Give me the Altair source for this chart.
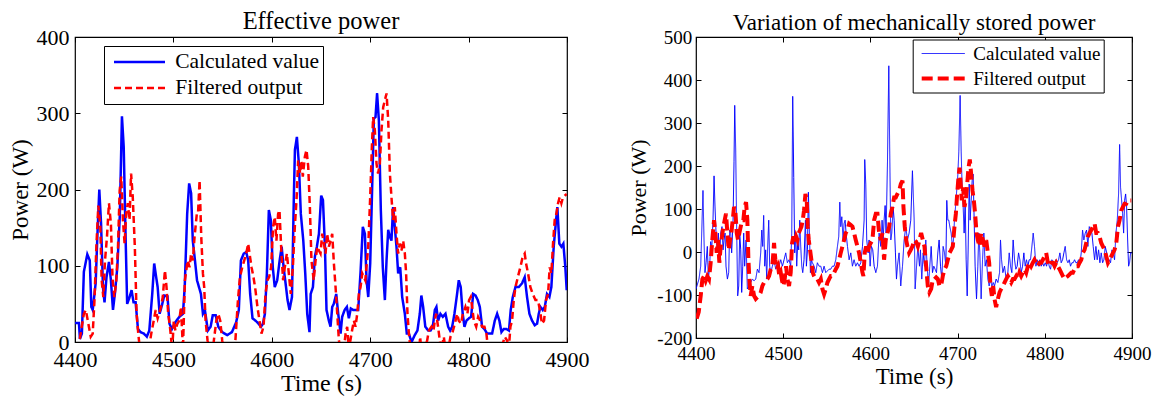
import altair as alt
import pandas as pd

FONT = "Liberation Serif"
SERIES = ["Calculated value", "Filtered output"]
X_TICKS = [4400, 4500, 4600, 4700, 4800, 4900]
Y_TICKS_LEFT = [0, 100, 200, 300, 400]
Y_TICKS_RIGHT = [-200, -100, 0, 100, 200, 300, 400, 500]

# [time (s), power (W)] pairs
# ---------------- Effective power: calculated value ----------------
ep_calc = [
    [4400, 25], [4404, 25], [4405, 4], [4407, 11], [4409, 92], [4412.5, 115], [4415, 107], [4416.6, 46],
    [4418, 42], [4421, 77], [4422.7, 138], [4424.7, 200], [4426.5, 155], [4428.4, 72], [4430, 52],
    [4432, 85], [4434.5, 105], [4436.5, 81], [4438.6, 42], [4440.5, 63], [4443, 98], [4445.5, 164],
    [4447.7, 296], [4449.5, 256], [4451.5, 133], [4453, 50], [4455, 57], [4457.5, 68], [4459.5, 52],
    [4461.6, 52], [4464, 17], [4466.5, 13], [4470, 11], [4473, 7], [4475.5, 15], [4478.5, 63],
    [4480.5, 103], [4482.5, 85], [4484, 72], [4486, 37], [4488.5, 49], [4490.7, 61], [4494, 60],
    [4496, 24], [4498.5, 17], [4502, 26], [4506, 33], [4509.7, 37], [4511.5, 72], [4514, 168],
    [4516, 208], [4518, 195], [4519.7, 133], [4521.9, 107], [4524, 81], [4526, 72], [4528, 63],
    [4530, 37], [4532, 42], [4535, 15], [4537.8, 20], [4540, 35], [4543, 35], [4545.6, 20],
    [4549.6, 13], [4554.7, 9], [4559.5, 13], [4563.8, 26], [4566.5, 42], [4568.6, 107], [4571.5, 116],
    [4574, 118], [4576, 107], [4578, 63], [4580.4, 31], [4583.5, 28], [4586.5, 24], [4589, 20],
    [4591, 24], [4593, 37], [4595, 90], [4597, 173], [4599, 160], [4601, 98], [4603, 72], [4605.5, 81],
    [4608, 107], [4610, 125], [4612, 98], [4614, 77], [4616, 55], [4618, 42], [4620.5, 59],
    [4622.4, 190], [4623.5, 252], [4625.5, 269], [4627.5, 234], [4629.5, 168], [4632, 133], [4634, 90],
    [4636, 37], [4638.3, 13], [4639.5, 63], [4641.8, 72], [4643.8, 112], [4645.8, 125], [4647.9, 142],
    [4650.2, 192], [4652, 186], [4654, 125], [4655.6, 42], [4658, 28], [4659.7, 20], [4661.4, 46],
    [4663, 50], [4665.5, 63], [4667.5, 37], [4669.9, 11], [4671.5, 33], [4674, 42], [4676.3, 46],
    [4678.3, 31], [4680.3, 44], [4682.7, 42], [4685, 42], [4687.8, 42], [4690.2, 92], [4692.5, 151],
    [4694.6, 142], [4696.3, 81], [4698, 59], [4700, 103], [4702, 203], [4703.7, 293], [4705.4, 295],
    [4707, 326], [4708.8, 291], [4710.8, 173], [4712.8, 98], [4714.9, 55], [4716.6, 107], [4718.3, 147],
    [4720, 138], [4721.6, 133], [4723.3, 177], [4725, 151], [4726.7, 125], [4728.4, 90], [4730.5, 98],
    [4732.5, 59], [4735.2, 37], [4737.2, 11], [4739.3, 11], [4742, 0], [4745.3, 9], [4748, 15],
    [4750.4, 37], [4752, 61], [4753.8, 46], [4756, 20], [4759, 15], [4761.3, 15], [4763.6, 20],
    [4765.7, 42], [4767.3, 46], [4769, 28], [4771.4, 37], [4773.8, 33], [4776.5, 37], [4779.2, 20],
    [4781.2, 15], [4783.3, 20], [4785.6, 37], [4788.3, 63], [4790, 81], [4792, 72], [4794, 37],
    [4795.8, 20], [4797.8, 28], [4800.2, 31], [4802.6, 33], [4804.6, 63], [4807, 61], [4809.3, 55],
    [4811.4, 46], [4813.7, 20], [4816.1, 17], [4818.8, 11], [4821.5, 11], [4823.9, 11], [4826.6, 28],
    [4829, 37], [4831.3, 28], [4833.4, 13], [4835.7, 17], [4838.4, 17], [4841, 15], [4842.8, 42],
    [4844.9, 59], [4847.6, 72], [4851, 72], [4854.3, 77], [4857, 85], [4859.4, 59], [4861.8, 37],
    [4864.5, 28], [4867.2, 22], [4869.6, 24], [4871.3, 37], [4873, 46], [4875.3, 42], [4877.4, 46],
    [4879.7, 63], [4882.1, 59], [4884.1, 72], [4886.5, 125], [4888.9, 160], [4890.2, 177],
    [4892.2, 129], [4894.3, 125], [4896.3, 129], [4898.3, 98], [4899.7, 68],
]

# ---------------- Effective power: filtered output ----------------
ep_filt = [
    [4402, -10], [4405, 5], [4409, 37], [4411, 42], [4413, 28], [4416, 7], [4418, 11], [4419.8, 55],
    [4421.7, 125], [4423.7, 179], [4425.7, 151], [4427.1, 81], [4428.8, 59], [4430.5, 107],
    [4432.5, 138], [4434.5, 182], [4436.5, 155], [4438.2, 81], [4440, 59], [4442, 81], [4443.7, 125],
    [4445.4, 199], [4447, 217], [4448.7, 160], [4450.4, 129], [4452, 168], [4453.7, 182], [4455.4, 160],
    [4457, 221], [4458.7, 190], [4460.8, 125], [4462.6, 37], [4464.3, 11], [4466, -10], [4475, -10],
    [4477.5, 11], [4480, 28], [4482, 42], [4484, 31], [4487, 44], [4489.2, 59], [4491.4, 94],
    [4493, 72], [4494.7, 37], [4496.5, 20], [4498.8, -10], [4500.4, 28], [4502, 15], [4504, 24],
    [4506, 28], [4507.7, 46], [4509.7, -10], [4511.7, 81], [4514.5, 107], [4516.4, 98], [4518, 116],
    [4519.8, 107], [4521.5, 138], [4523.8, 168], [4525, 168], [4526.6, 212], [4528.3, 138], [4530, 90],
    [4531.3, 72], [4532.7, 28], [4534.7, 2], [4537, -10], [4540, -10], [4541.6, 7], [4543.6, 28],
    [4545.6, 37], [4547.6, 28], [4549.6, 2], [4551, -10], [4562, -10], [4563, 2], [4565.6, 55],
    [4567.6, 85], [4570, 98], [4572, 107], [4574, 116], [4576, 129], [4577.4, 116], [4579.4, 98],
    [4581.4, 85], [4583.4, 68], [4585.4, 46], [4587.5, 28], [4589.5, 11], [4591.6, 20], [4593.6, 63],
    [4595.6, 81], [4597.3, 85], [4599.3, 98], [4601.3, 151], [4603, 164], [4604.7, 133], [4606.4, 168],
    [4607.8, 173], [4609.8, 116], [4611.5, 81], [4613.2, 98], [4615.3, 116], [4617.3, 90], [4619.3, 63],
    [4621.4, 98], [4623.4, 151], [4625.1, 186], [4626.8, 238], [4628.8, 221], [4630.1, 238],
    [4631.5, 217], [4633.6, 243], [4635.3, 252], [4637, 230], [4638.7, 177], [4640.3, 107],
    [4642.6, 81], [4644.5, 107], [4646.2, 125], [4647.9, 120], [4649.5, 116], [4651.2, 142],
    [4653, 129], [4654.6, 116], [4656.3, 142], [4658, 125], [4659.7, 133], [4661.4, 142], [4663.1, 103],
    [4664.8, 72], [4666.5, 37], [4668.2, 2], [4670, -10], [4673.2, -10], [4675, 11], [4676.6, 20],
    [4678.3, -10], [4681, 11], [4683.4, 28], [4685.1, 20], [4686.8, 37], [4688.5, 63], [4690.2, 72],
    [4691.9, 90], [4695, 81], [4698, 125], [4700, 190], [4701.7, 256], [4703, 295], [4704.7, 278],
    [4706.4, 234], [4708, 221], [4709.8, 234], [4711.5, 278], [4713.2, 308], [4714.9, 317],
    [4716.6, 326], [4718.3, 291], [4720, 221], [4721.6, 190], [4723.3, 160], [4725, 177], [4726.7, 142],
    [4728.4, 116], [4730, 129], [4731.8, 120], [4733.5, 133], [4735.2, 116], [4736.5, 90], [4737.9, 37],
    [4739.3, 11], [4741, -10], [4750, -10], [4750.7, 7], [4752, -10], [4755, -10], [4757.9, 2],
    [4759.6, 15], [4762.3, 20], [4764.3, 15], [4765.7, 28], [4767, 37], [4769, 20], [4770.7, 2],
    [4772.4, -10], [4774.8, 7], [4776.5, -10], [4779.2, -10], [4781.6, 7], [4783.3, 11], [4786, 24],
    [4788.3, 37], [4790, 28], [4792.4, 24], [4794.1, 37], [4795.8, 42], [4796.8, 46], [4798.8, 37],
    [4800.5, 55], [4802.2, 59], [4803.6, 46], [4805.3, 28], [4807.7, 20], [4809.7, 33], [4811.7, 28],
    [4813.7, 20], [4816.1, 20], [4818.1, 11], [4819.8, -10], [4833, -10], [4836.7, 7], [4839.1, 2],
    [4840.8, -10], [4842.5, 20], [4844.2, 28], [4845.9, 55], [4847.6, 72], [4849.3, 81], [4851, 90],
    [4852.6, 98], [4855, 112], [4857, 116], [4858.4, 103], [4860.4, 90], [4862.8, 72], [4865.2, 63],
    [4867.9, 55], [4870.6, 55], [4873, 37], [4874.6, 24], [4876.7, 28], [4878.7, 55], [4880.8, 63],
    [4882.4, 98], [4884.1, 90], [4885.8, 129], [4887.5, 160], [4889.2, 168], [4890.9, 182],
    [4892.6, 190], [4894.3, 182], [4896, 190], [4897.7, 192], [4899.7, 194],
]

# ---------------- Mechanically stored power: calculated value ----------------
ms_calc = [
    [4400, -86], [4403.4, -63], [4405.4, -33], [4408, 143], [4409.2, 28], [4410.3, -48], [4411.5, -25],
    [4413, 13], [4414.2, -63], [4415.7, -33], [4416.8, 24], [4418, 5], [4419.5, 74], [4420.7, 177],
    [4421.8, 105], [4423, 44], [4424.5, -2], [4425.6, 44], [4427.2, -18], [4428.3, 44], [4429.8, 59],
    [4431, 5], [4432.1, 28], [4433.3, 44], [4434.4, -33], [4436, -63], [4437.5, -48], [4438.6, 51],
    [4439.8, 44], [4440.9, -2], [4442.5, 74], [4443.6, 211], [4444.4, 341], [4445.5, 242], [4446.7, 44],
    [4447.8, -102], [4449, -79], [4450.1, 44], [4451.3, 5], [4452.4, -94], [4453.6, -33], [4454.7, 44],
    [4455.8, -33], [4457.4, 28], [4458.9, -86], [4460.8, -79], [4462.7, -71], [4464.6, -63],
    [4466.6, -67], [4468.5, -63], [4470.4, -40], [4472.3, -48], [4474.2, -2], [4475.4, 51],
    [4476.5, 13], [4477.6, 85], [4478.8, -33], [4479.9, 5], [4481.1, -63], [4482.2, 13], [4483.4, 74],
    [4484.5, -33], [4485.7, -48], [4487.6, -33], [4489.5, -18], [4491.4, -40], [4493.3, -25],
    [4495.2, -33], [4497.2, -18], [4499.1, -33], [4501, -18], [4502.9, -2], [4504.8, -25], [4506.7, -18],
    [4508.6, -33], [4509.8, 44], [4510.9, 362], [4512.1, 173], [4513.2, -2], [4514.4, 44], [4515.5, -33],
    [4516.7, 28], [4517.8, 5], [4519, 74], [4520.1, 13], [4521.3, -33], [4522.4, -48], [4523.9, -18],
    [4525.5, 74], [4526.6, -33], [4527.8, 5], [4528.9, 139], [4530.1, 44], [4531.2, -48], [4532.3, -18],
    [4533.5, -25], [4535.4, -33], [4537.3, -48], [4539.2, -25], [4541.1, -33], [4543.1, -33],
    [4545, -48], [4546.9, -33], [4548.8, -48], [4550.7, -44], [4552.6, -40], [4554.5, -40],
    [4556.4, -33], [4558.4, -33], [4560.3, -18], [4562.2, 13], [4563.7, 36], [4564.9, 116], [4566, 59],
    [4567.2, 82], [4568.7, 28], [4569.8, 66], [4571, 74], [4572.1, 44], [4573.7, 13], [4575.6, -18],
    [4577.5, -2], [4579.4, -33], [4581.3, -18], [4583.2, -33], [4585.1, -25], [4587, -33], [4589, -25],
    [4590.9, 13], [4592.8, 74], [4593.5, 215], [4594.7, 158], [4595.8, 28], [4597.4, -2], [4598.5, 28],
    [4599.7, -33], [4601.2, 13], [4602.7, 5], [4604.3, -33], [4606.2, -48], [4608.1, -33], [4610, 44],
    [4611.9, 13], [4613.4, 74], [4614.6, 28], [4615.7, 74], [4616.9, 108], [4618, 44], [4619.6, 211],
    [4621.1, 433], [4622.2, 227], [4623.4, 28], [4624.5, 44], [4626.1, 105], [4627.2, 74], [4628.7, -2],
    [4629.9, -63], [4631, -33], [4632.9, -2], [4634.8, -79], [4636.8, -33], [4638.7, 28], [4640.6, 59],
    [4642.5, 28], [4644.4, 44], [4646.3, 74], [4648.2, 189], [4650.2, 74], [4651.3, -86], [4654.4, 13],
    [4656.3, -33], [4657.4, 5], [4658.9, -63], [4660.5, -2], [4662, -33], [4663.5, 28], [4665.1, -33],
    [4666.6, -79], [4668.1, -33], [4669.7, 13], [4671.2, -48], [4672.7, -33], [4674.2, -40],
    [4675.8, -48], [4677.3, -2], [4678.8, 28], [4680.4, -33], [4681.9, -63], [4683.4, 13], [4685, -2],
    [4686.5, -33], [4687.6, 120], [4688.8, 74], [4689.9, 74], [4691.1, 59], [4692.6, 44], [4694.1, 13],
    [4695.3, 28], [4696.4, 74], [4697.6, 105], [4698.7, 135], [4700.3, 181], [4701.4, 234],
    [4702.9, 364], [4704.1, 234], [4705.2, 150], [4706.4, 105], [4707.5, 44], [4708.7, 120],
    [4709.8, -18], [4711, -102], [4712.1, 5], [4713.3, 158], [4714.4, 74], [4715.6, 120], [4716.7, 166],
    [4717.8, 181], [4719, 74], [4720.1, -33], [4721.7, -109], [4723.2, -33], [4724.3, 44], [4725.5, -2],
    [4727, -109], [4728.6, -18], [4730.1, 44], [4731.6, -33], [4733.1, -18], [4734.7, -63],
    [4736.2, -79], [4737.7, -63], [4739.3, -79], [4740.8, -71], [4742.3, -79], [4744.2, -63],
    [4746.2, -71], [4748.1, -48], [4749.2, 28], [4750.4, -18], [4751.9, -48], [4753.8, -33],
    [4755.7, -63], [4757.6, -48], [4759.2, -2], [4760.7, -33], [4762.2, -48], [4763.7, 28],
    [4765.3, -18], [4766.8, -40], [4768.3, -33], [4769.9, -2], [4771.4, -18], [4772.9, -48],
    [4774.5, -33], [4776, -2], [4777.5, -33], [4779, -18], [4780.6, -33], [4782.1, -18], [4783.6, -18],
    [4785.2, 13], [4786.7, 44], [4788.2, 13], [4789.8, -33], [4791.3, -18], [4792.8, -33], [4794.3, -18],
    [4795.9, -33], [4797.4, -25], [4798.9, -33], [4800.5, -25], [4802, -33], [4803.5, -18], [4805.1, -33],
    [4806.6, -40], [4808.1, -18], [4809.6, -25], [4811.2, -33], [4812.7, -18], [4814.2, -25],
    [4815.8, -18], [4817.3, -2], [4818.8, -25], [4820.4, -18], [4821.9, -2], [4823.4, 13], [4825, -18],
    [4826.5, -25], [4828, -18], [4829.5, -33], [4831.1, -25], [4832.6, -25], [4834.1, -18],
    [4835.7, -25], [4837.2, -25], [4838.7, -18], [4840.3, -25], [4841.8, -2], [4843.3, 51], [4844.8, 28],
    [4846.4, 44], [4847.9, 51], [4849.4, 13], [4851, 59], [4852.5, 51], [4854, 44], [4855.5, 13],
    [4857.1, -18], [4858.6, 13], [4860.1, -18], [4861.7, 5], [4863.2, -25], [4864.7, -2], [4866.3, -25],
    [4867.8, -18], [4869.3, 13], [4870.9, -2], [4872.4, -25], [4873.9, -18], [4875.4, -25], [4877, 5],
    [4878.5, -2], [4880, -18], [4881.6, 44], [4883.1, 74], [4884.6, 135], [4885.8, 250], [4886.9, 150],
    [4888.1, 120], [4889.2, 89], [4890.4, 44], [4891.5, 120], [4892.7, 135], [4893.8, 105], [4895, 28],
    [4896.1, -33], [4897.2, -25], [4898.4, -2], [4900, -2],
]

# ---------------- Mechanically stored power: filtered output ----------------
ms_filt = [
    [4400.8, -155], [4403.1, -140], [4405.4, -102], [4407.3, -63], [4409.2, -56], [4411.1, -67],
    [4413, -56], [4414.9, -63], [4416.8, -25], [4418.7, 28], [4420.7, 74], [4422.2, 44], [4423.7, -2],
    [4425.2, 28], [4426.8, -25], [4428.3, 13], [4429.8, 36], [4431.4, 59], [4432.9, 74], [4434.4, 89],
    [4436, 44], [4437.5, 5], [4439, 28], [4440.5, 44], [4442.1, 74], [4443.6, 105], [4445.1, 97],
    [4446.7, 44], [4448.2, 28], [4449.7, 44], [4451.3, 59], [4452.8, 74], [4454.3, 74], [4455.8, 105],
    [4457.4, 116], [4458.9, 74], [4460.1, -18], [4461.2, -63], [4462.7, -102], [4464.6, -79],
    [4466.6, -102], [4468.5, -109], [4470.4, -105], [4472.3, -102], [4474.2, -94], [4476.1, -79],
    [4478, -71], [4479.9, -67], [4481.9, -63], [4483.8, -56], [4485.7, -40], [4487.6, -33], [4489.5, 21],
    [4491, -18], [4492.6, -40], [4494.1, -33], [4495.6, -56], [4497.2, -48], [4498.7, -67], [4500.2, -79],
    [4501.7, -63], [4503.3, -33], [4504.8, -63], [4506.7, -79], [4508.6, -48], [4510.2, 21], [4511.7, 36],
    [4513.2, 21], [4514.8, 36], [4516.3, 28], [4517.8, 44], [4519.3, 51], [4520.9, 59], [4522.4, 74],
    [4523.9, 97], [4525.5, 135], [4527, 120], [4528.1, 59], [4529.3, 28], [4530.8, 5], [4532.3, -18],
    [4533.9, -48], [4535.4, -56], [4537.3, -63], [4539.2, -63], [4541.1, -71], [4543.1, -63],
    [4545, -86], [4546.9, -98], [4548.8, -86], [4550.7, -71], [4552.6, -63], [4554.5, -56], [4556.4, -56],
    [4558.4, -48], [4560.3, -40], [4562.2, -33], [4564.1, -18], [4566, -2], [4567.9, 13], [4569.8, 28],
    [4571.7, 44], [4573.7, 51], [4575.6, 66], [4577.5, 63], [4579.4, 59], [4581.3, 44], [4583.2, 28],
    [4585.1, 13], [4587, -2], [4589, -25], [4590.9, -48], [4592, -56], [4593.5, -2], [4595.1, 13],
    [4596.6, -2], [4598.5, 13], [4600.4, 21], [4602.3, 28], [4604.3, 74], [4606.2, 89], [4608.1, 89],
    [4610, 44], [4611.9, 28], [4613.8, 44], [4615.7, -18], [4617.6, 28], [4619.6, 44], [4621.5, 59],
    [4623.4, 89], [4625.3, 105], [4627.2, 127], [4629.1, 127], [4631, 135], [4633, 143], [4634.9, 158],
    [4636.8, 166], [4637.9, 105], [4639.4, 59], [4641, 28], [4642.5, 13], [4644.4, -2], [4646.3, 5],
    [4648.2, 13], [4650.2, 28], [4652.4, 24], [4654.4, 13], [4656.3, 28], [4658.2, 44], [4660.1, 28],
    [4662, 13], [4663.9, -33], [4665.8, -79], [4667.7, -94], [4669.7, -86], [4671.6, -63], [4673.5, -63],
    [4675.4, -59], [4677.3, -63], [4679.2, -79], [4681.1, -79], [4683, -56], [4685, -40], [4686.9, -33],
    [4688.8, -18], [4690.7, -2], [4692.6, 5], [4694.5, 13], [4696.4, 59], [4698, 89], [4699.5, 135],
    [4701, 173], [4702.2, 196], [4703.3, 166], [4704.8, 120], [4706.4, 150], [4707.9, 105],
    [4709.4, 120], [4711, 158], [4712.5, 196], [4714, 215], [4715.6, 181], [4717.1, 143], [4718.6, 120],
    [4720.1, 89], [4721.7, 44], [4723.2, 28], [4725.1, 13], [4727, 44], [4729, 28], [4730.9, 13],
    [4732.8, 28], [4734.7, -2], [4736.2, -25], [4737.7, -79], [4739.3, -102], [4740.8, -79],
    [4742.3, -109], [4744.2, -128], [4746.2, -109], [4748.1, -94], [4750, -86], [4751.9, -79],
    [4753.8, -71], [4755.7, -63], [4757.6, -56], [4759.5, -63], [4761.5, -71], [4763.4, -63],
    [4765.3, -63], [4767.2, -56], [4769.1, -63], [4771, -48], [4772.9, -56], [4774.8, -48], [4776.8, -40],
    [4778.7, -48], [4780.6, -33], [4782.5, -25], [4784.4, -33], [4786.3, -25], [4788.2, -18],
    [4790.1, -25], [4792.1, -33], [4794, -25], [4795.9, -25], [4797.8, -18], [4799.7, -10], [4801.6, -2],
    [4803.5, -25], [4805.4, -33], [4807.4, -25], [4809.3, -25], [4811.2, -33], [4813.1, -25],
    [4815, -33], [4816.9, -40], [4818.8, -48], [4820.7, -56], [4822.7, -63], [4824.6, -59], [4826.5, -56],
    [4828.4, -52], [4830.3, -48], [4832.2, -48], [4834.1, -40], [4836, -33], [4838, -33], [4839.9, -25],
    [4841.8, -18], [4843.7, -2], [4845.6, 5], [4847.5, 21], [4849.4, 36], [4851.3, 44], [4853.3, 51],
    [4855.2, 59], [4857.1, 66], [4859, 44], [4860.9, 44], [4862.8, 36], [4864.7, 21], [4866.6, 13],
    [4868.6, 5], [4870.5, -10], [4872.4, -25], [4874.3, -18], [4876.2, -10], [4878.1, -2], [4880, 5],
    [4882, 21], [4883.9, 59], [4885.8, 74], [4887.7, 97], [4889.6, 105], [4891.5, 112], [4893.4, 112],
    [4895.3, 120], [4897.2, 120], [4899.2, 120],
]


def frame(calc, filt):
    a = pd.DataFrame(calc, columns=["time", "power"])
    a["series"] = SERIES[0]
    b = pd.DataFrame(filt, columns=["time", "power"])
    b["series"] = SERIES[1]
    return pd.concat([a, b], ignore_index=True)


def panel(df, y_dom, y_ticks, w, h, title, s):
    lab = "datum.value + ''"
    x_scale = alt.Scale(domain=[4400, 4900], nice=False, zero=False)
    y_scale = alt.Scale(domain=y_dom, nice=False, zero=False)
    common = dict(grid=False, domain=False, offset=-5, tickSize=5, tickColor="black",
                  tickWidth=1, labelFont=FONT, titleFont=FONT, labelColor="black",
                  titleColor="black", titleFontWeight="normal", labelFlush=False,
                  labelOverlap=False, labelExpr=lab)
    x_axis = alt.Axis(values=X_TICKS, title="Time (s)", labelFontSize=s["xl"],
                      labelPadding=s["xlp"], titleFontSize=s["xt"], titlePadding=s["xtp"], **common)
    y_axis = alt.Axis(values=y_ticks, title="Power (W)", labelFontSize=s["yl"],
                      labelPadding=s["ylp"], titleFontSize=s["yt"], titlePadding=s["ytp"], **common)
    legend = alt.Legend(title=None, orient="none", legendX=s["lx"], legendY=s["ly"],
                        direction="vertical", columns=1, symbolType="stroke",
                        symbolSize=s["sym"] ** 2, labelFont=FONT, labelFontSize=s["lf"],
                        labelColor="black", strokeColor="black", fillColor="white",
                        padding=s["lpad"], clipHeight=s["clip"], rowPadding=s["rowpad"],
                        symbolOffset=s["symoff"], labelOffset=s["laboff"], labelLimit=0)
    lines = alt.Chart(df).mark_line(clip=True, strokeCap="butt").encode(
        x=alt.X("time:Q", scale=x_scale, axis=x_axis),
        y=alt.Y("power:Q", scale=y_scale, axis=y_axis),
        color=alt.Color("series:N", scale=alt.Scale(domain=SERIES, range=["#0000ff", "#ff0000"]),
                        legend=legend),
        strokeDash=alt.StrokeDash("series:N", scale=alt.Scale(domain=SERIES, range=[[1, 0], s["dash"]]),
                                  legend=legend),
        strokeWidth=alt.StrokeWidth("series:N", scale=alt.Scale(domain=SERIES, range=s["widths"]),
                                    legend=legend),
        order="time:Q",
    )
    frame_axes = dict(grid=False, domain=False, offset=-5, tickSize=5, tickColor="black",
                      labels=False, title=None)
    box = alt.Chart(df).mark_line(strokeOpacity=0, clip=True).encode(
        x=alt.X("time:Q", scale=x_scale, axis=alt.Axis(orient="top", values=X_TICKS, **frame_axes)),
        y=alt.Y("power:Q", scale=y_scale, axis=alt.Axis(orient="right", values=y_ticks, **frame_axes)),
    )
    return alt.layer(lines, box).resolve_axis(x="independent", y="independent").properties(
        width=w, height=h,
        title=alt.Title(title, font=FONT, fontSize=s["tf"], fontWeight="normal", color="black",
                        offset=s["toff"], anchor="middle"),
    )


left_style = dict(xl=22, xlp=7, xt=24, xtp=1, yl=22, ylp=6, yt=23, ytp=4,
                  lx=29, ly=9, sym=51, lf=21.5, lpad=3, clip=26, rowpad=0, symoff=5.5, laboff=8.7,
                  dash=[7, 4], widths=[2.5, 2.5], tf=24.5, toff=-8.5)
right_style = dict(xl=19, xlp=6.6, xt=23, xtp=2, yl=19, ylp=4.3, yt=22, ytp=6,
                   lx=216.7, ly=2.5, sym=43, lf=19, lpad=3, clip=22, rowpad=3, symoff=4, laboff=6.6,
                   dash=[11, 5], widths=[1, 4], tf=23, toff=-7)

left = panel(frame(ep_calc, ep_filt), [0, 400], Y_TICKS_LEFT, 492, 305, "Effective power", left_style)
right = panel(frame(ms_calc, ms_filt), [-200, 500], Y_TICKS_RIGHT, 436, 301,
              "Variation of mechanically stored power", right_style)

chart = alt.hconcat(left, right, spacing=37).resolve_scale(
    color="independent", strokeDash="independent", strokeWidth="independent"
).resolve_legend(
    color="independent", strokeDash="independent", strokeWidth="independent"
).properties(
    padding={"left": 0, "top": 0, "right": 0, "bottom": 0}
).configure(background="white").configure_view(stroke="black", strokeWidth=1.2)

chart.save("out.html", embed_options={"renderer": "svg", "actions": False})
